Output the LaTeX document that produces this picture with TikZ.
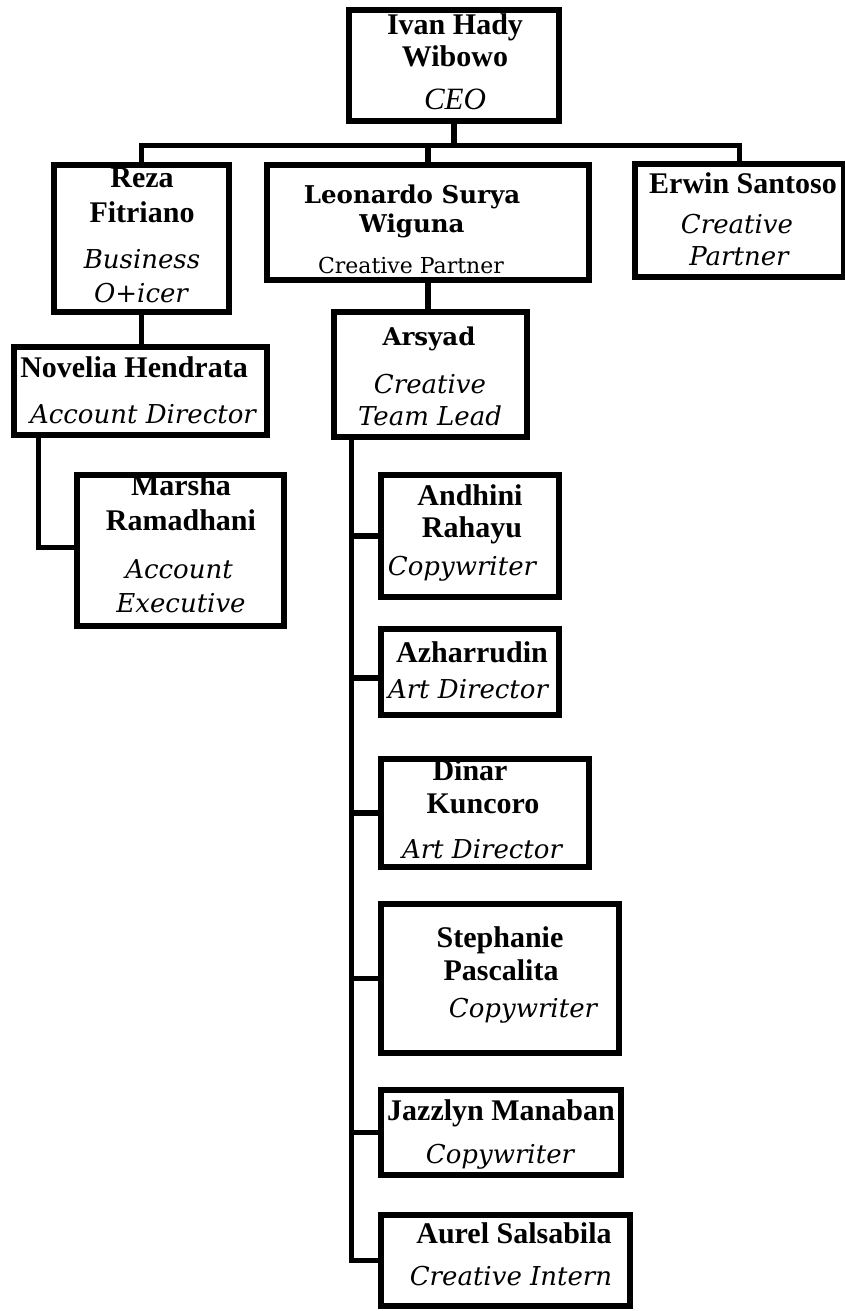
\documentclass[tikz,border=0pt]{standalone}
\usepackage{fontspec}
\setmainfont{Liberation Serif}
\newfontfamily\geo{DejaVu Serif}
\tikzset{
  x=1pt, y=-1pt,
  box/.style={draw, line width=5.3pt, inner sep=0pt},
  link/.style={line width=5.3pt, line cap=rect, line join=miter},
  nm/.style={anchor=base, inner sep=0pt, font=\fontsize{30}{32}\selectfont\bfseries},
  gnm/.style={anchor=base, inner sep=0pt, font=\geo\fontsize{24.5}{28}\selectfont\bfseries},
  ttl/.style={anchor=base, inner sep=0pt, font=\geo\fontsize{26}{30}\selectfont\itshape},
  rttl/.style={anchor=base, inner sep=0pt, font=\geo\fontsize{22}{26}\selectfont},
  tttl/.style={anchor=base, inner sep=0pt, font=\fontsize{31}{34}\selectfont\itshape},
}
\begin{document}
\begin{tikzpicture}
\useasboundingbox (0,0) rectangle (845,1311);
% boxes
\node[box, minimum width=210, minimum height=111] (ceo) at (454,65.5) {};
\node[box, minimum width=175, minimum height=147] (reza) at (141.5,238.5) {};
\node[box, minimum width=322, minimum height=115] (leo) at (428,222.5) {};
\node[box, minimum width=209, minimum height=113] (erwin) at (739.5,220.5) {};
\node[box, minimum width=253, minimum height=88] (nov) at (140.5,391) {};
\node[box, minimum width=207, minimum height=151] (mar) at (180.5,550.5) {};
\node[box, minimum width=193, minimum height=125] (ars) at (430.5,374.5) {};
\node[box, minimum width=178, minimum height=122] (and) at (470,536) {};
\node[box, minimum width=178, minimum height=86] (azh) at (470,672) {};
\node[box, minimum width=208, minimum height=108] (din) at (485,813) {};
\node[box, minimum width=238, minimum height=149] (ste) at (500,978.5) {};
\node[box, minimum width=240, minimum height=85] (jaz) at (501,1132.5) {};
\node[box, minimum width=249, minimum height=91] (aur) at (505.5,1260.5) {};
% connectors
\coordinate (bus) at (0,145.5);
\draw[link] (ceo.south) -- (ceo.south |- bus);
\draw[link] (reza.north |- bus) -- (erwin.north |- bus);
\draw[link] (reza.north |- bus) -- (reza.north);
\draw[link] (leo.north |- bus) -- (leo.north);
\draw[link] (erwin.north |- bus) -- (erwin.north);
\draw[link] (reza.south) -- (reza.south |- nov.north);
\draw[link] (leo.south) -- (leo.south |- ars.north);
\draw[link] ([xshift=27pt]nov.south west) |- ([yshift=3pt]mar.west);
\coordinate (tr) at ([xshift=20pt]ars.south west);
\draw[link] (tr) |- (aur.west);
\foreach \n in {and,din,ste,jaz} \draw[link] (\n.west) -- (\n.west -| tr);
\draw[link] ([yshift=-6pt]azh.west) -- ([yshift=-6pt]azh.west -| tr);
% texts
\node[nm] (ceo1) at (455,35) {Ivan Hady};
\node[nm] (ceo2) at (455,67) {Wibowo};
\node[tttl] (ceo3) at (455,110) {CEO};
\node[nm] (reza1) at (142,187) {Reza};
\node[nm] (reza2) at (142,222) {Fitriano};
\node[ttl] (reza3) at (142,268) {Business};
\node[ttl] (reza4) at (141,302) {O+icer};
\node[gnm] (leo1) at (412,203) {Leonardo Surya};
\node[gnm] (leo2) at (412,232) {Wiguna};
\node[rttl] (leo3) at (411,273) {Creative Partner};
\node[nm] (erwin1) at (743,193) {Erwin Santoso};
\node[ttl] (erwin2) at (737,233) {Creative};
\node[ttl] (erwin3) at (739,265) {Partner};
\node[nm] (nov1) at (134,377) {Novelia Hendrata};
\node[ttl] (nov2) at (143,423) {Account Director};
\node[nm] (mar1) at (181,495) {Marsha};
\node[nm] (mar2) at (181,530) {Ramadhani};
\node[ttl] (mar3) at (179,578) {Account};
\node[ttl] (mar4) at (181,612) {Executive};
\node[gnm] (ars1) at (429,345) {Arsyad};
\node[ttl] (ars2) at (430,393) {Creative};
\node[ttl] (ars3) at (430,425) {Team Lead};
\node[nm] (and1) at (470,505) {Andhini};
\node[nm] (and2) at (472,537) {Rahayu};
\node[ttl] (and3) at (462,575) {Copywriter};
\node[nm] (azh1) at (472,662) {Azharrudin};
\node[ttl] (azh2) at (468,698) {Art Director};
\node[nm] (din1) at (470,780) {Dinar};
\node[nm] (din2) at (483,813) {Kuncoro};
\node[ttl] (din3) at (482,858) {Art Director};
\node[nm] (ste1) at (500,947) {Stephanie};
\node[nm] (ste2) at (501,980) {Pascalita};
\node[ttl] (ste3) at (523,1017) {Copywriter};
\node[nm] (jaz1) at (501,1120) {Jazzlyn Manaban};
\node[ttl] (jaz2) at (500,1163) {Copywriter};
\node[nm] (aur1) at (514,1243) {Aurel Salsabila};
\node[ttl] (aur2) at (511,1285) {Creative Intern};
\end{tikzpicture}
\end{document}
